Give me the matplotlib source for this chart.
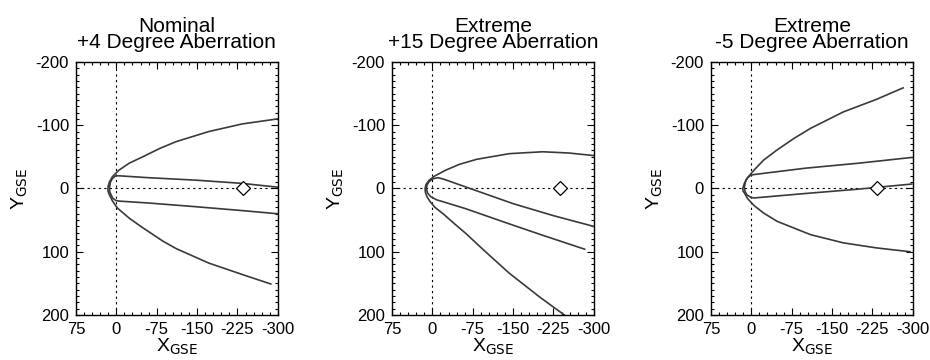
import matplotlib
matplotlib.use("Agg")
import matplotlib.pyplot as plt
from matplotlib.ticker import MultipleLocator

plt.rcParams['font.family'] = ['Liberation Sans', 'DejaVu Sans']
plt.rcParams['axes.unicode_minus'] = False

titles = ["Nominal\n+4 Degree Aberration",
          "Extreme\n+15 Degree Aberration",
          "Extreme\n-5 Degree Aberration"]

x_ticks = [75, 0, -75, -150, -225, -300]
y_ticks = [-200, -100, 0, 100, 200]

# bow shock, traced from the upper tail round the nose to the lower tail
shock1_x = [-300, -234, -172, -111, -80, -49, -24, -5, 7, 13, 15.6, 15.5, 13, 7, -2,
            -24, -49, -86, -111, -172, -234, -287]
shock1_y = [-110, -102, -90, -74, -63, -50, -40, -29, -19, -10, -2, 4, 10, 20, 31,
            47, 62, 83, 95, 118, 136, 151]
shock2_x = [-300, -254, -205, -143, -82, -50, -25, -5, 6, 12, 13.5, 13, 10, 4, -5,
            -20, -40, -62, -100, -143, -200, -255]
shock2_y = [-52, -56, -58, -55, -46, -38, -29, -20, -13, -6, 0, 6, 13, 21, 30,
            40, 55, 71, 101, 134, 172, 206]
shock3_x = [-282, -233, -171, -110, -79, -48, -23, -5, 7, 13, 15.9, 15.5, 13, 7, -5,
            -23, -48, -110, -171, -233, -295]
shock3_y = [-159, -141, -121, -95, -79, -61, -45, -29, -17, -8, 0, 4, 7, 16, 27,
            39, 52, 73, 86, 94, 100]

# magnetopause / tail boundary
mp1_x = [-300, -234, -150, -60, -5, 1, 7, 11, 13, 12, 7, 1, -5, -60, -150, -234, -300]
mp1_y = [-2, -8, -13, -17, -20, -20, -16, -10, 0, 6, 15, 19, 20, 23, 29, 35, 40]
mp2_x = [-300, -225, -150, -70, -40, -20, -10, 0, 7, 10, 11, 9, 3, -8, -20, -62,
         -143, -205, -283]
mp2_y = [60, 43, 24, 0, -9, -15, -17, -15, -10, -5, 0, 7, 13, 18, 21, 32,
         56, 74, 96]
mp3_x = [-298, -200, -100, -5, 1, 7, 10.3, 13, 12, 8.5, 1, -5, -100, -200, -298]
mp3_y = [-49, -40, -32, -22, -21, -17, -13, -2, 4, 10, 14, 15, 8, 1, -7]

diamond_x = [-236, -237, -234]
diamond_y = [0, 0, 0]

shocks = [(shock1_x, shock1_y), (shock2_x, shock2_y), (shock3_x, shock3_y)]
mps = [(mp1_x, mp1_y), (mp2_x, mp2_y), (mp3_x, mp3_y)]

fig = plt.figure(figsize=(9.3, 3.6), dpi=100)
lefts = [0.0817, 0.4215, 0.7645]

for i in range(3):
    ax = fig.add_axes([lefts[i], 0.125, 0.217, 0.703])
    ax.axvline(0, color='black', lw=0.8, ls=(0, (2, 3)))
    ax.axhline(0, color='black', lw=0.8, ls=(0, (2, 3)))
    ax.plot(shocks[i][0], shocks[i][1], color='#3a3a3a', lw=1.2)
    ax.plot(mps[i][0], mps[i][1], color='#3a3a3a', lw=1.2)
    ax.plot(diamond_x[i], diamond_y[i], marker='D', ms=7, mfc='white',
            mec='black', mew=0.9, ls='none')

    ax.set_xlim(75, -300)
    ax.set_ylim(200, -200)
    ax.set_xticks(x_ticks)
    ax.set_yticks(y_ticks)
    ax.xaxis.set_minor_locator(MultipleLocator(15))
    ax.yaxis.set_minor_locator(MultipleLocator(10))
    ax.tick_params(which='both', direction='in', top=True, right=True,
                   labelsize=12, width=0.8)
    ax.tick_params(which='major', length=5, pad=5)
    ax.tick_params(which='minor', length=2.5)
    for s in ax.spines.values():
        s.set_linewidth(1.0)

    ax.set_xlabel("X$_{\\mathrm{GSE}}$", fontsize=14, labelpad=0)
    ax.set_ylabel("Y$_{\\mathrm{GSE}}$", fontsize=14, labelpad=4)
    ax.set_title(titles[i], fontsize=15, linespacing=0.8, pad=10)

fig.savefig("out.png", dpi=100)
